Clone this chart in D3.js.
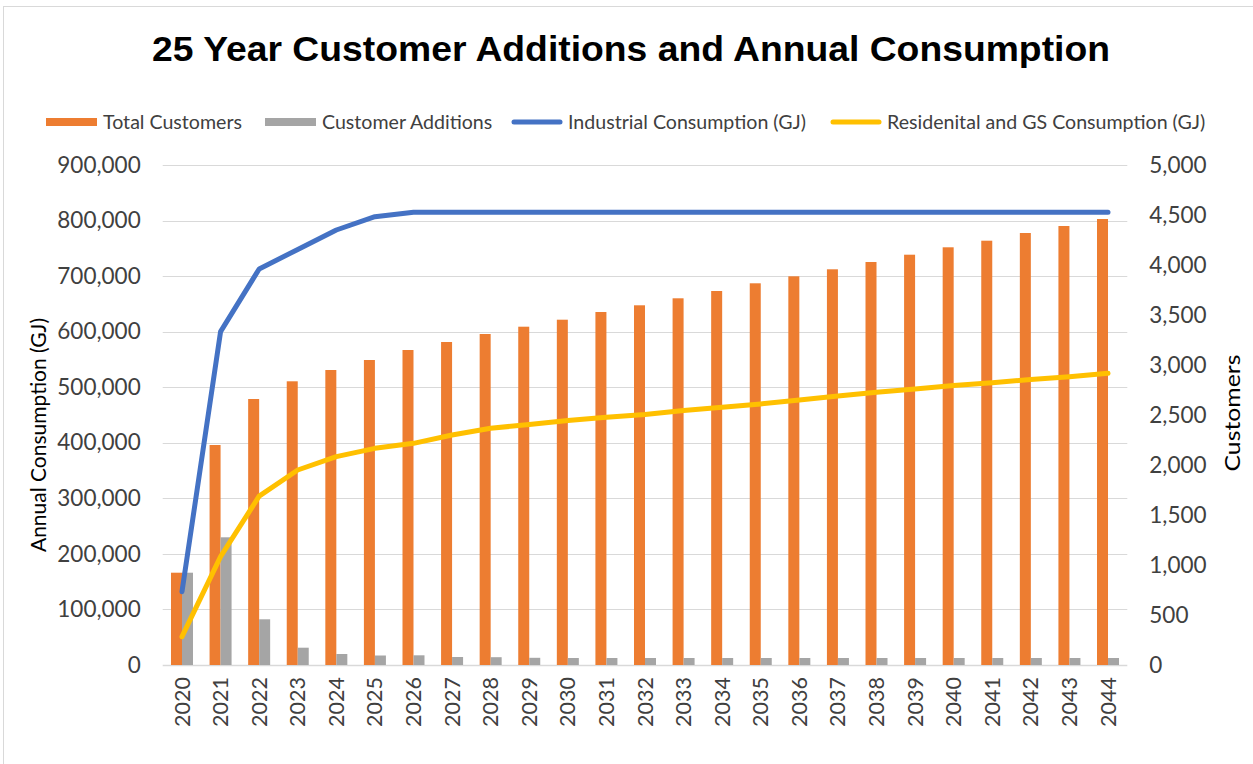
<!DOCTYPE html>
<html>
<head>
<meta charset="utf-8">
<script src="https://cdn.jsdelivr.net/npm/d3@7"></script>
<style>
  html, body { margin: 0; padding: 0; background: #ffffff; }
  svg { display: block; }
</style>
</head>
<body>
<svg id="chart" width="1253" height="764"></svg>
<script>
const years = ["2020","2021","2022","2023","2024","2025","2026","2027","2028","2029","2030","2031","2032","2033","2034","2035","2036","2037","2038","2039","2040","2041","2042","2043","2044"];
const totalCustomers = [923, 2200, 2660, 2837, 2950, 3050, 3150, 3230, 3310, 3383, 3453, 3530, 3597, 3667, 3740, 3817, 3887, 3957, 4030, 4103, 4177, 4243, 4320, 4390, 4460];
const customerAdditions = [923, 1277, 457, 173, 110, 95, 97, 80, 78, 72, 70, 70, 70, 70, 70, 70, 70, 70, 70, 70, 70, 70, 70, 70, 70];
const industrialGJ = [131900, 600000, 712800, 748000, 783000, 807000, 815000, 815000, 815000, 815000, 815000, 815000, 815000, 815000, 815000, 815000, 815000, 815000, 815000, 815000, 815000, 815000, 815000, 815000, 815000];
const residentialGJ = [51000, 195000, 304000, 351000, 375000, 390000, 399000, 414000, 426000, 433000, 440000, 446000, 451000, 458000, 464000, 470000, 477000, 484000, 491000, 497000, 503000, 508000, 514000, 519000, 525000];
const leftTicks = [0, 100000, 200000, 300000, 400000, 500000, 600000, 700000, 800000, 900000];
const rightTicks = [0, 500, 1000, 1500, 2000, 2500, 3000, 3500, 4000, 4500, 5000];
const titleText = "25 Year Customer Additions and Annual Consumption";
const leftTitle = "Annual Consumption (GJ)";
const rightTitle = "Customers";
const legendItems = [
  {label: "Total Customers", type: "bar", color: "#ED7D31"},
  {label: "Customer Additions", type: "bar", color: "#A5A5A5"},
  {label: "Industrial Consumption (GJ)", type: "line", color: "#4472C4"},
  {label: "Residenital and GS Consumption (GJ)", type: "line", color: "#FFC000"}
];

const FONT = "Lato, 'Open Sans', sans-serif";
const svg = d3.select("#chart");

// outer border
svg.append("rect").attr("x", 3.5).attr("y", 6.5).attr("width", 1300).attr("height", 800)
  .attr("fill", "#fff").attr("stroke", "#d9d9d9").attr("stroke-width", 1);

const plot = {left: 162.7, right: 1127.3, top: 165, bottom: 665};

const x = d3.scaleBand().domain(years).range([plot.left, plot.right]).padding(0);
const bw = x.bandwidth();
const barW = 11;
const x1 = d3.scaleBand().domain(["total", "adds"]).range([bw / 2 - barW, bw / 2 + barW]).padding(0);
const yL = d3.scaleLinear().domain([0, 900000]).range([plot.bottom, plot.top]);
const yR = d3.scaleLinear().domain([0, 5000]).range([plot.bottom, plot.top]);

// gridlines
svg.append("g").selectAll("line").data(leftTicks).join("line")
  .attr("x1", plot.left).attr("x2", plot.right)
  .attr("y1", d => Math.round(yL(d)) + 0.5).attr("y2", d => Math.round(yL(d)) + 0.5)
  .attr("stroke", "#d9d9d9").attr("stroke-width", d => d === 0 ? 1.5 : 1.2);

// left axis
const axL = svg.append("g").attr("transform", `translate(${plot.left},0)`)
  .call(d3.axisLeft(yL).tickValues(leftTicks).tickSize(0).tickPadding(22).tickFormat(d3.format(",")));
axL.select(".domain").remove();
axL.selectAll("text").attr("font-family", FONT).attr("font-size", 22.5).attr("fill", "#404040");

// right axis
const axR = svg.append("g").attr("transform", `translate(${plot.right},0)`)
  .call(d3.axisRight(yR).tickValues(rightTicks).tickSize(0).tickPadding(22).tickFormat(d3.format(",")));
axR.select(".domain").remove();
axR.selectAll("text").attr("font-family", FONT).attr("font-size", 22.5).attr("fill", "#404040");

// x axis
const axX = svg.append("g").attr("transform", `translate(0,${plot.bottom})`)
  .call(d3.axisBottom(x).tickSize(0).tickPadding(0));
axX.select(".domain").remove();
axX.selectAll("text")
  .attr("font-family", FONT).attr("font-size", 21.5).attr("fill", "#404040")
  .attr("transform", "translate(0,12) rotate(-90)")
  .attr("text-anchor", "end").attr("dy", "0.35em").attr("y", 0).attr("x", 0);

// bars
const barData = years.map((yr, i) => ({yr, total: totalCustomers[i], adds: customerAdditions[i]}));
const groups = svg.append("g").selectAll("g").data(barData).join("g")
  .attr("transform", d => `translate(${x(d.yr)},0)`);
groups.append("rect").attr("x", x1("total")).attr("width", x1.bandwidth())
  .attr("y", d => yR(d.total)).attr("height", d => yR(0) - yR(d.total)).attr("fill", "#ED7D31");
groups.append("rect").attr("x", x1("adds")).attr("width", x1.bandwidth())
  .attr("y", d => yR(d.adds)).attr("height", d => yR(0) - yR(d.adds)).attr("fill", "#A5A5A5");

// lines
const line = d3.line().x((d, i) => x(years[i]) + bw / 2).y(d => yL(d));
svg.append("path").datum(industrialGJ).attr("d", line).attr("fill", "none")
  .attr("stroke", "#4472C4").attr("stroke-width", 5).attr("stroke-linecap", "round").attr("stroke-linejoin", "round");
svg.append("path").datum(residentialGJ).attr("d", line).attr("fill", "none")
  .attr("stroke", "#FFC000").attr("stroke-width", 5).attr("stroke-linecap", "round").attr("stroke-linejoin", "round");

// title
svg.append("text").attr("x", 631).attr("y", 61).attr("text-anchor", "middle")
  .attr("font-family", "'Liberation Sans', Arial, sans-serif").attr("font-weight", "bold")
  .attr("font-size", 35).attr("textLength", 958).attr("lengthAdjust", "spacingAndGlyphs")
  .attr("fill", "#000").text(titleText);

// axis titles
svg.append("text").attr("transform", "translate(46,435) rotate(-90)").attr("text-anchor", "middle")
  .attr("font-family", FONT).attr("font-size", 22).attr("textLength", 234).attr("lengthAdjust", "spacingAndGlyphs")
  .attr("fill", "#000").text(leftTitle);
svg.append("text").attr("transform", "translate(1240,413) rotate(-90)").attr("text-anchor", "middle")
  .attr("font-family", FONT).attr("font-size", 22).attr("textLength", 117).attr("lengthAdjust", "spacingAndGlyphs")
  .attr("fill", "#000").text(rightTitle);

// legend
const legendX = [46, 265, 511, 830];
const lg = svg.append("g").selectAll("g").data(legendItems).join("g")
  .attr("transform", (d, i) => `translate(${legendX[i]},122)`);
lg.filter(d => d.type === "bar").append("rect").attr("x", 0).attr("y", -4).attr("width", 51).attr("height", 8)
  .attr("fill", d => d.color);
lg.filter(d => d.type === "line").append("line").attr("x1", 3).attr("x2", 49).attr("y1", 0).attr("y2", 0)
  .attr("stroke", d => d.color).attr("stroke-width", 5).attr("stroke-linecap", "round");
lg.append("text").attr("x", 57).attr("y", 0).attr("dy", "0.35em")
  .attr("font-family", FONT).attr("font-size", 19.6).attr("fill", "#404040").text(d => d.label);
</script>
</body>
</html>
